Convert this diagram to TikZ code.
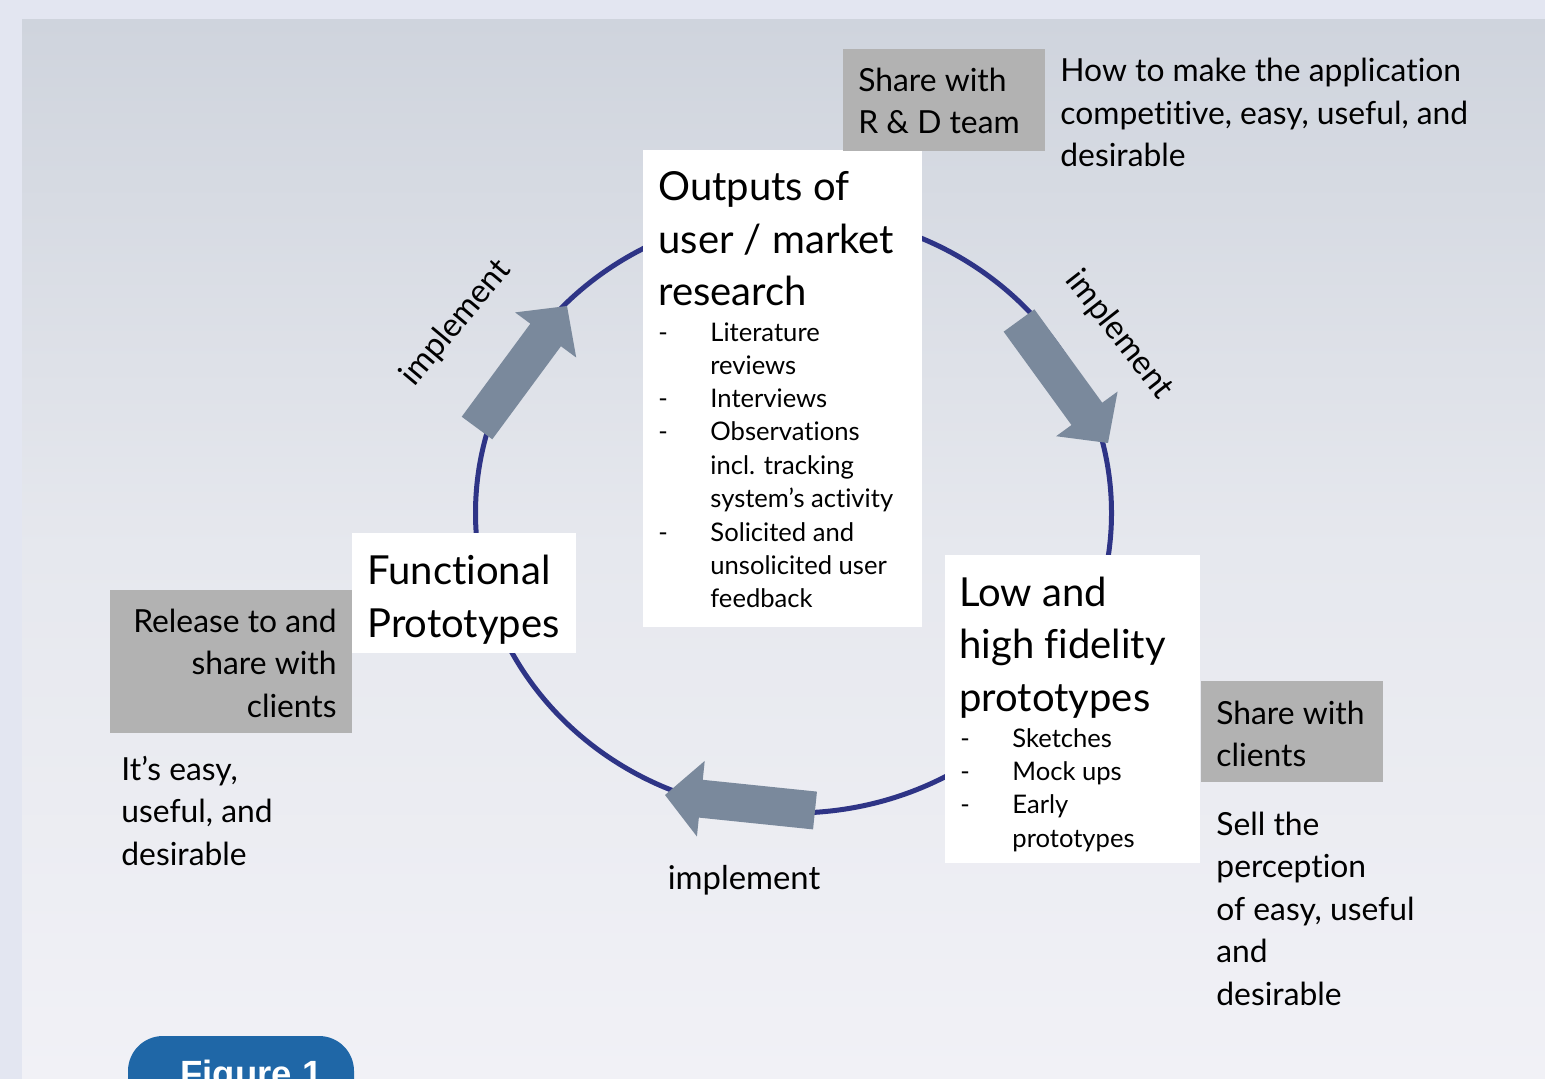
\documentclass[tikz,border=0pt]{standalone}
\usepackage{fontspec}
\setmainfont{Lato}[Ligatures=NoCommon]
\newfontfamily\figfont{Liberation Sans}
\usetikzlibrary{calc}
\definecolor{outerbg}{HTML}{E3E6F1}
\definecolor{paneltop}{HTML}{CFD4DD}
\definecolor{panelmid}{HTML}{E6E8EE}
\definecolor{panelbot}{HTML}{F1F1F6}
\definecolor{ringblue}{HTML}{2E3486}
\definecolor{arrowgray}{HTML}{7A899C}
\definecolor{boxgray}{HTML}{B2B2B2}
\definecolor{tabblue}{HTML}{1F67A7}
\newcommand\blockarrow[2]{%
  \coordinate (#1-hb) at ($(#2)!18pt!(#1)$);
  \fill[arrowgray]
    ($(#1)!9.5pt!90:(#2)$) -- ($(#1-hb)!9.5pt!-90:(#1)$) -- ($(#1-hb)!19pt!-90:(#1)$)
    -- (#2) -- ($(#1-hb)!19pt!90:(#1)$) -- ($(#1-hb)!9.5pt!90:(#1)$)
    -- ($(#1)!9.5pt!-90:(#2)$) -- cycle;}
\begin{document}
\begin{tikzpicture}[x=0.5pt,y=-0.5pt,
  whitebox/.style={fill=white, draw=none, inner sep=0, anchor=north west},
  graybox/.style={fill=boxgray, draw=none, inner sep=0, anchor=north west},
  title/.style={inner sep=0, anchor=base west, font=\fontsize{20}{26}\selectfont},
  bullet/.style={inner sep=0, anchor=base west, font=\fontsize{12.8}{16}\selectfont},
  plain/.style={inner sep=0, anchor=base west, font=\fontsize{15.9}{21}\selectfont},
  plainr/.style={inner sep=0, anchor=base east, font=\fontsize{15.9}{21}\selectfont},
  impl/.style={inner sep=0, font=\fontsize{16.4}{20}\selectfont},
  ring/.style={draw=ringblue, line width=2.5pt}]
\useasboundingbox (0,0) rectangle (1545,1079);
\clip (0,0) rectangle (1545,1079);
% background
\fill[outerbg] (0,0) rectangle (1545,1079);
\shade[top color=paneltop, bottom color=panelbot, middle color=panelmid] (22,20) rectangle (1545,1079);
% ring
\draw[ring] (793.5,513) ellipse [x radius=159pt, y radius=150pt];
% block arrows
\coordinate (a1t) at (477,428); \coordinate (a1h) at (567,306);
\coordinate (a2t) at (1019,320.5); \coordinate (a2h) at (1108,443);
\coordinate (a3t) at (815,810.5); \coordinate (a3h) at (665,795);
\blockarrow{a1t}{a1h}
\blockarrow{a2t}{a2h}
\blockarrow{a3t}{a3h}
% implement labels
\node[impl, rotate=50] (impl1) at (456,323) {implement};
\node[impl, rotate=-52] (impl2) at (1119,335) {implement};
\node[impl] (impl3) at (744,880) {implement};
% boxes
\node[whitebox, minimum width=139.5pt, minimum height=238.5pt] (outbox) at (643,150) {};
\node[whitebox, minimum width=127.5pt, minimum height=154pt] (lowbox) at (945,555) {};
\node[whitebox, minimum width=112pt, minimum height=60pt] (funcbox) at (352,533) {};
\node[graybox, minimum width=101pt, minimum height=51pt] (rdbox) at (843,49) {};
\node[graybox, minimum width=91pt, minimum height=50.5pt] (clbox) at (1201,681) {};
\node[graybox, minimum width=121pt, minimum height=71.5pt] (relbox) at (110,590) {};
% Outputs box text
\node[title] (o1) at (658,201) {Outputs of};
\node[title] (o2) at (658,253.5) {user / market};
\node[title] (o3) at (658,306) {research};
\node[bullet] (od1) at (658,341.5) {-};
\node[bullet] (ob1) at (710,341.5) {Literature};
\node[bullet] (ob2) at (710,374.7) {reviews};
\node[bullet] (od2) at (658,408) {-};
\node[bullet] (ob3) at (710,408) {Interviews};
\node[bullet] (od3) at (658,441) {-};
\node[bullet] (ob4) at (710,441) {Observations};
\node[bullet] (ob5) at (710,474) {incl. tracking};
\node[bullet] (ob6) at (710,507.5) {system’s activity};
\node[bullet] (od4) at (658,541) {-};
\node[bullet] (ob7) at (710,541) {Solicited and};
\node[bullet] (ob8) at (710,574) {unsolicited user};
\node[bullet] (ob9) at (710,607) {feedback};
% Low box text
\node[title] (l1) at (959,606) {Low and};
\node[title] (l2) at (959,658.5) {high fidelity};
\node[title] (l3) at (959,711) {prototypes};
\node[bullet] (ld1) at (960,747.5) {-};
\node[bullet] (lb1) at (1012,747.5) {Sketches};
\node[bullet] (ld2) at (960,780.5) {-};
\node[bullet] (lb2) at (1012,780.5) {Mock ups};
\node[bullet] (ld3) at (960,813.5) {-};
\node[bullet] (lb3) at (1012,813.5) {Early};
\node[bullet] (lb4) at (1012,847) {prototypes};
% Functional box text
\node[title] (f1) at (367,584) {Functional};
\node[title] (f2) at (367,637) {Prototypes};
% gray box texts
\node[plain] (rd1) at (858,92) {Share with};
\node[plain] (rd2) at (858,134) {R \& D team};
\node[plain] (cl1) at (1216,724) {Share with};
\node[plain] (cl2) at (1216,766) {clients};
\node[plainr] (rel1) at (337,632) {Release to and};
\node[plainr] (rel2) at (337,674.5) {share with};
\node[plainr] (rel3) at (337,717) {clients};
% plain texts
\node[plain] (h1) at (1060,82) {How to make the application};
\node[plain] (h2) at (1060,124.5) {competitive, easy, useful, and};
\node[plain] (h3) at (1060,167) {desirable};
\node[plain] (s1) at (1216,835) {Sell the};
\node[plain] (s2) at (1216,877.5) {perception};
\node[plain] (s3) at (1216,920) {of easy, useful};
\node[plain] (s4) at (1216,962.5) {and};
\node[plain] (s5) at (1216,1005) {desirable};
\node[plain] (e1) at (121,780) {It’s easy,};
\node[plain] (e2) at (121,822.5) {useful, and};
\node[plain] (e3) at (121,865) {desirable};
% figure tab
\fill[tabblue, rounded corners=17.5pt] (128,1036) rectangle (354,1140);
\node[inner sep=0, anchor=base west, text=white, font=\figfont\bfseries\fontsize{18.25}{22}\selectfont] (fig) at (180,1086) {Figure 1};
\end{tikzpicture}
\end{document}
